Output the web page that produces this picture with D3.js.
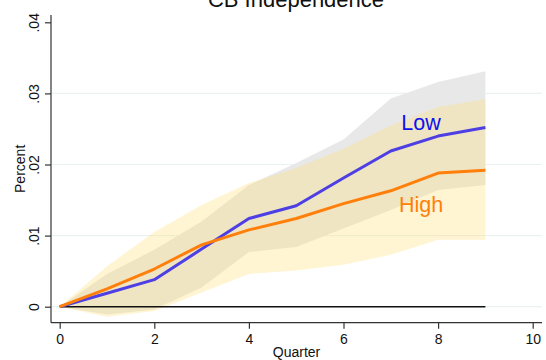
<!DOCTYPE html>
<html>
<head>
<meta charset="utf-8">
<script src="https://cdn.jsdelivr.net/npm/d3@7/dist/d3.min.js"></script>
<style>
html,body{margin:0;padding:0;background:#fff;}
svg{display:block;font-family:"Liberation Sans",Arial,Helvetica,sans-serif;}
</style>
</head>
<body>
<svg id="chart" width="546" height="360"></svg>
<script>
// ---- data ----
const quarters   = [0, 1, 2, 3, 4, 5, 6, 7, 8, 9];
const lowIRF     = [0, 0.0019, 0.0038, 0.0081, 0.0124, 0.0142, 0.0181, 0.0219, 0.0240, 0.0252];
const lowUpper   = [0, 0.0046, 0.0080, 0.0120, 0.0171, 0.0202, 0.0235, 0.0293, 0.0316, 0.0331];
const lowLower   = [0, -0.0011, -0.0004, 0.0027, 0.0077, 0.0084, 0.0110, 0.0136, 0.0164, 0.0171];
const highIRF    = [0, 0.0025, 0.0053, 0.0087, 0.0108, 0.0124, 0.0145, 0.0163, 0.0188, 0.0192];
const highUpper  = [0, 0.0057, 0.0105, 0.0143, 0.0174, 0.0195, 0.0222, 0.0255, 0.0281, 0.0292];
const highLower  = [0, -0.0014, -0.0006, 0.0020, 0.0046, 0.0051, 0.0059, 0.0073, 0.0094, 0.0094];
const xTicks     = [0, 2, 4, 6, 8, 10];
const yTicks     = [0, 0.01, 0.02, 0.03, 0.04];
const yTickLabels= ["0", ".01", ".02", ".03", ".04"];
const gridValues = [0, 0.01, 0.02, 0.03];
const seriesNames = ["Low", "High"];
const labelPos   = [{q: 7.64, v: 0.0249}, {q: 7.64, v: 0.0133}];
const titleText  = "CB Independence";
const xTitle     = "Quarter";
const yTitle     = "Percent";

// ---- layout ----
const svg = d3.select("#chart");
const axisX0 = 51, axisX1 = 542, axisYTop = 15, axisYBottom = 322.7;
const x = d3.scaleLinear().domain([0, 10]).range([59.7, 532.7]);
const y = d3.scaleLinear().domain([0, 0.04]).range([306.7, 22.3]);

// gridlines
svg.append("g").selectAll("line").data(gridValues).join("line")
  .attr("x1", axisX0).attr("x2", axisX1)
  .attr("y1", d => y(d)).attr("y2", d => y(d))
  .attr("stroke", "#eaf2f3").attr("stroke-width", 1.2);

// bands
const area = (lo, hi) => d3.area()
  .x((d, i) => x(quarters[i]))
  .y0((d, i) => y(lo[i]))
  .y1((d, i) => y(hi[i]))(quarters);

svg.append("path").attr("d", area(lowLower, lowUpper)).attr("fill", "#e8e8e8");
svg.append("path").attr("d", area(highLower, highUpper))
  .attr("fill", "rgb(255,222,110)").attr("fill-opacity", 0.3);

// zero line
svg.append("line")
  .attr("x1", x(quarters[0])).attr("x2", x(quarters[quarters.length - 1]))
  .attr("y1", y(0)).attr("y2", y(0))
  .attr("stroke", "#111").attr("stroke-width", 1.4);

// lines
const line = vals => d3.line()
  .x((d, i) => x(quarters[i]))
  .y((d, i) => y(vals[i]))(quarters);

svg.append("path").attr("d", line(lowIRF)).attr("fill", "none")
  .attr("stroke", "#4d3fe3").attr("stroke-width", 3).attr("stroke-linejoin", "round");
svg.append("path").attr("d", line(highIRF)).attr("fill", "none")
  .attr("stroke", "#ff7f0a").attr("stroke-width", 3).attr("stroke-linejoin", "round");

// series labels
const labelColors = ["#1010f0", "#ff7f0a"];
svg.append("g").selectAll("text").data(seriesNames).join("text")
  .attr("x", (d, i) => x(labelPos[i].q))
  .attr("y", (d, i) => y(labelPos[i].v))
  .attr("text-anchor", "middle")
  .attr("font-size", 21.5)
  .attr("fill", (d, i) => labelColors[i])
  .text(d => d);

// axes lines
svg.append("line").attr("x1", axisX0).attr("x2", axisX0)
  .attr("y1", axisYTop).attr("y2", axisYBottom)
  .attr("stroke", "#333").attr("stroke-width", 1.2);
svg.append("line").attr("x1", axisX0).attr("x2", axisX1)
  .attr("y1", axisYBottom).attr("y2", axisYBottom)
  .attr("stroke", "#333").attr("stroke-width", 1.2);

// y axis
const yAxis = svg.append("g").attr("transform", `translate(${axisX0},0)`)
  .call(d3.axisLeft(y).tickValues(yTicks).tickSize(6)
    .tickFormat((d, i) => yTickLabels[i]));
yAxis.select(".domain").remove();
yAxis.selectAll(".tick line").attr("stroke", "#333").attr("stroke-width", 1.2);
yAxis.selectAll(".tick text")
  .attr("x", null).attr("dy", null)
  .attr("transform", "translate(-12.5,0) rotate(-90)")
  .attr("text-anchor", "middle")
  .attr("font-size", 14).attr("fill", "#111")
  .attr("font-family", "'Liberation Sans', Arial, sans-serif");

// x axis
const xAxis = svg.append("g").attr("transform", `translate(0,${axisYBottom})`)
  .call(d3.axisBottom(x).tickValues(xTicks).tickSize(6).tickFormat(d3.format("d")));
xAxis.select(".domain").remove();
xAxis.selectAll(".tick line").attr("stroke", "#333").attr("stroke-width", 1.2);
xAxis.selectAll(".tick text")
  .attr("y", 21.3).attr("dy", null)
  .attr("font-size", 14).attr("fill", "#111")
  .attr("font-family", "'Liberation Sans', Arial, sans-serif");

// titles
svg.append("text").attr("x", (axisX0 + axisX1) / 2).attr("y", 357)
  .attr("text-anchor", "middle").attr("font-size", 14).attr("fill", "#111")
  .text(xTitle);
svg.append("text")
  .attr("transform", `translate(24.5,${(axisYTop + axisYBottom) / 2}) rotate(-90)`)
  .attr("text-anchor", "middle").attr("font-size", 14).attr("fill", "#111")
  .text(yTitle);
svg.append("text").attr("x", 296).attr("y", 7)
  .attr("text-anchor", "middle").attr("font-size", 22).attr("fill", "#111")
  .text(titleText);
</script>
</body>
</html>
